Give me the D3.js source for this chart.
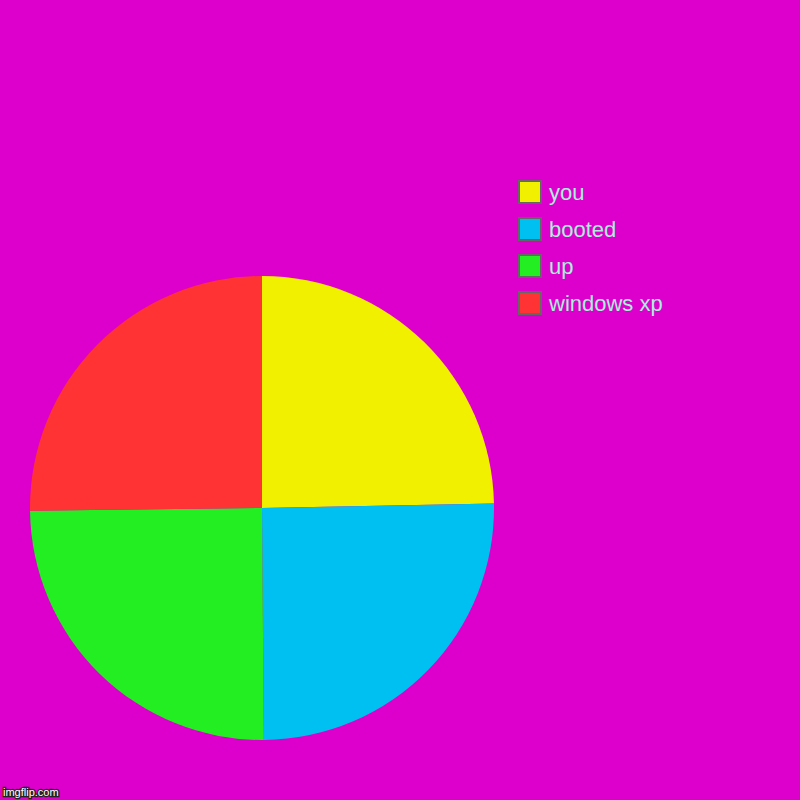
<!DOCTYPE html>
<meta charset="utf-8">
<style>
    body { margin: 0; background: #dd00cc; }
    svg { display: block; }
    .legend text {
        font-family: "Liberation Sans", Arial, sans-serif;
        font-size: 22px;
        fill: #a8f0d8;
    }
    .watermark {
        font-family: "Liberation Sans", Arial, sans-serif;
        font-size: 11px;
        fill: #fff;
        stroke: #222;
        stroke-width: 2.5px;
        paint-order: stroke;
    }
</style>

<svg width="800" height="800"></svg>

<script src="https://d3js.org/d3.v7.min.js"></script>
<script>
// slices in drawing order, clockwise from 12 o'clock
var labels = ["you", "booted", "up", "windows xp"];
var values = [98, 100, 99, 100];
var colors = ["#f0f000", "#00c0f2", "#22ee22", "#ff3333"];

// legend lists the slices bottom-up, so "you" ends up on top
var legendOrder = ["you", "booted", "up", "windows xp"];

var svg = d3.select("svg");

svg.append("rect")
    .attr("width", 800)
    .attr("height", 800)
    .attr("fill", "#dd00cc");

var color = d3.scaleOrdinal().domain(labels).range(colors);

var pie = d3.pie()
    .sort(null)
    .value(function(d) { return d.value; });

var arc = d3.arc()
    .innerRadius(0)
    .outerRadius(232);

var data = labels.map(function(l, i) { return { label: l, value: values[i] }; });

svg.append("g")
    .attr("transform", "translate(262,508)")
    .selectAll("path")
    .data(pie(data))
    .enter()
    .append("path")
    .attr("d", arc)
    .attr("fill", function(d) { return color(d.data.label); });

// legend
var row = d3.scaleBand()
    .domain(legendOrder)
    .range([181, 181 + 37 * legendOrder.length]);

var item = svg.append("g")
    .attr("class", "legend")
    .selectAll("g")
    .data(legendOrder)
    .enter()
    .append("g")
    .attr("transform", function(d) { return "translate(519," + row(d) + ")"; });

item.append("rect")
    .attr("width", 22)
    .attr("height", 22)
    .attr("fill", function(d) { return color(d); })
    .attr("stroke", "#666")
    .attr("stroke-width", 2);

item.append("text")
    .attr("x", 30)
    .attr("y", 19)
    .text(function(d) { return d; });

svg.append("text")
    .attr("class", "watermark")
    .attr("x", 3)
    .attr("y", 796)
    .text("imgflip.com");
</script>
